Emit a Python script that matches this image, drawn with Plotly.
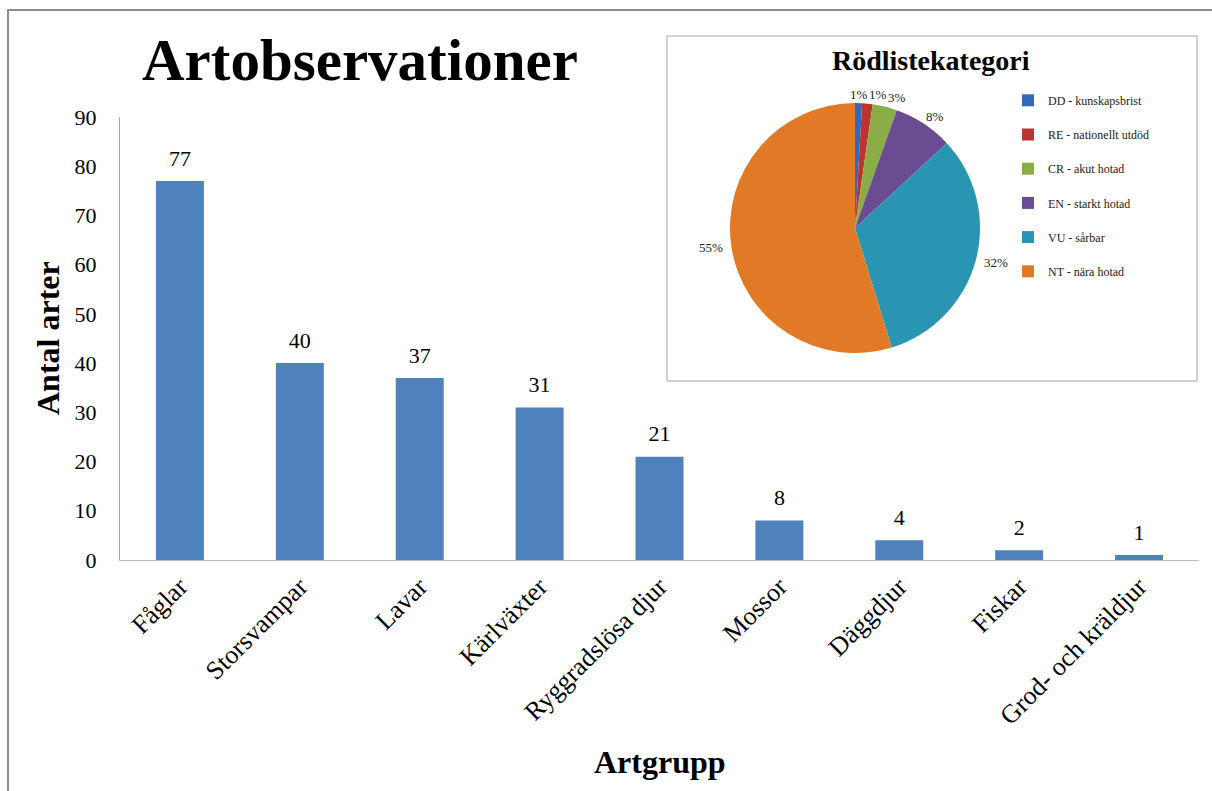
import math
import plotly.graph_objects as go

# ---- data ----
categories = ["Fåglar", "Storsvampar", "Lavar", "Kärlväxter", "Ryggradslösa djur",
              "Mossor", "Däggdjur", "Fiskar", "Grod- och kräldjur"]
counts = [77, 40, 37, 31, 21, 8, 4, 2, 1]

red_labels = ["DD - kunskapsbrist", "RE - nationellt utdöd", "CR - akut hotad",
              "EN - starkt hotad", "VU - sårbar", "NT - nära hotad"]
red_values = [2, 3, 7, 17, 71, 121]
red_colors = ["#3469B5", "#BC3431", "#8AAD46", "#6A4C92", "#2A95B2", "#E07A26"]

y_ticks = [0, 10, 20, 30, 40, 50, 60, 70, 80, 90]

W, H = 1212, 791
SERIF = "Liberation Serif, Times New Roman, serif"

# pixel -> paper helpers (paper spans x 8..1212, y 10..560)
PX0, PX1 = 8, 1212
PY0, PY1 = 10, 560
def px(x):
    return (x - PX0) / (PX1 - PX0)
def py(y):
    return (PY1 - y) / (PY1 - PY0)

# pie geometry (domain square -> radius)
PIE_CX, PIE_CY, PIE_R = 855, 228, 125

fig = go.Figure()

fig.add_trace(go.Bar(
    x=categories, y=counts,
    marker=dict(color="#4F81BD", line=dict(width=0)),
    showlegend=False, hoverinfo="x+y",
))
# value labels above bars
fig.add_trace(go.Scatter(
    x=categories, y=counts, mode="markers+text",
    marker=dict(size=14, opacity=0),
    text=[str(c) for c in counts], textposition="top center",
    textfont=dict(family=SERIF, size=22, color="black"),
    cliponaxis=False, showlegend=False, hoverinfo="skip",
))

fig.add_trace(go.Pie(
    labels=[l + "<br> " for l in red_labels], values=red_values,
    marker=dict(colors=red_colors, line=dict(width=0)),
    sort=False, direction="clockwise", rotation=0,
    textinfo="none",
    domain=dict(x=[px(PIE_CX - PIE_R), px(PIE_CX + PIE_R)],
                y=[py(PIE_CY + PIE_R), py(PIE_CY - PIE_R)]),
    showlegend=True, automargin=False,
))

# percentage labels placed outside each slice, derived from the values
annotations = []
total = sum(red_values)
cum = 0
placed = []
for v in red_values:
    mid = (cum + v / 2) / total
    cum += v
    ang = 2 * math.pi * mid
    s, c = math.sin(ang), math.cos(ang)
    rr = PIE_R + 9
    lx = PIE_CX + s * rr + s * 12
    ly = PIE_CY - c * rr
    # keep neighbouring labels on the top row from overlapping
    for (qx, qy) in placed:
        if abs(qy - ly) < 14 and abs(qx - lx) < 19:
            lx = qx + 19
    placed.append((lx, ly))
    annotations.append(dict(
        text=f"{round(100 * v / total)}%", xref="paper", yref="paper",
        x=px(lx), y=py(ly), xanchor="center", yanchor="middle", showarrow=False,
        font=dict(family=SERIF, size=13, color="#222")))

shapes = [
    # outer frame
    dict(type="rect", xref="paper", yref="paper",
         x0=0, x1=1.05, y0=-0.6, y1=1,
         line=dict(color="#8C8C8C", width=2), fillcolor="rgba(0,0,0,0)", layer="below"),
    # pie box
    dict(type="rect", xref="paper", yref="paper",
         x0=px(667), x1=px(1197), y0=py(381), y1=py(36),
         line=dict(color="#A6A6A6", width=1), fillcolor="white", layer="below"),
]

annotations += [
    dict(text="<b>Artobservationer</b>", xref="paper", yref="paper",
         x=px(360), y=py(60), xanchor="center", yanchor="middle", showarrow=False,
         font=dict(family=SERIF, size=59, color="black")),
    dict(text="<b>Rödlistekategori</b>", xref="paper", yref="paper",
         x=px(931), y=py(60), xanchor="center", yanchor="middle", showarrow=False,
         font=dict(family=SERIF, size=28, color="black")),
    dict(text="<b>Antal arter</b>", xref="paper", yref="paper",
         x=px(48), y=py(338), xanchor="center", yanchor="middle", showarrow=False,
         textangle=-90, font=dict(family=SERIF, size=32, color="black")),
    dict(text="<b>Artgrupp</b>", xref="paper", yref="paper",
         x=px(660), y=py(762), xanchor="center", yanchor="middle", showarrow=False,
         font=dict(family=SERIF, size=32, color="black")),
]

fig.update_layout(
    width=W, height=H,
    margin=dict(l=PX0, r=0, t=PY0, b=H - PY1, autoexpand=False),
    paper_bgcolor="white", plot_bgcolor="white",
    bargap=0.6,
    shapes=shapes, annotations=annotations,
    legend=dict(x=px(1008), y=py(86), xanchor="left", yanchor="top",
                font=dict(family=SERIF, size=12, color="#222"),
                valign="top", bgcolor="rgba(0,0,0,0)", itemwidth=30),
    font=dict(family=SERIF, color="black"),
)

fig.update_xaxes(
    domain=[px(120), px(1199)],
    range=[-0.5, len(categories) - 0.5],
    showline=True, linecolor="#BFBFBF", linewidth=1,
    showgrid=False, ticks="", tickangle=-45,
    tickfont=dict(family=SERIF, size=26, color="black"),
)
fig.update_yaxes(
    domain=[0, py(117)],
    range=[0, 90], tickvals=y_ticks,
    showline=True, linecolor="#A6A6A6", linewidth=1,
    showgrid=False, ticks="", zeroline=False,
    ticklabelstandoff=18,
    tickfont=dict(family=SERIF, size=22, color="black"),
)

fig.write_html("out.html", config={"displayModeBar": False},
               post_script="document.body.style.margin='0px';document.body.style.overflow='hidden';")
